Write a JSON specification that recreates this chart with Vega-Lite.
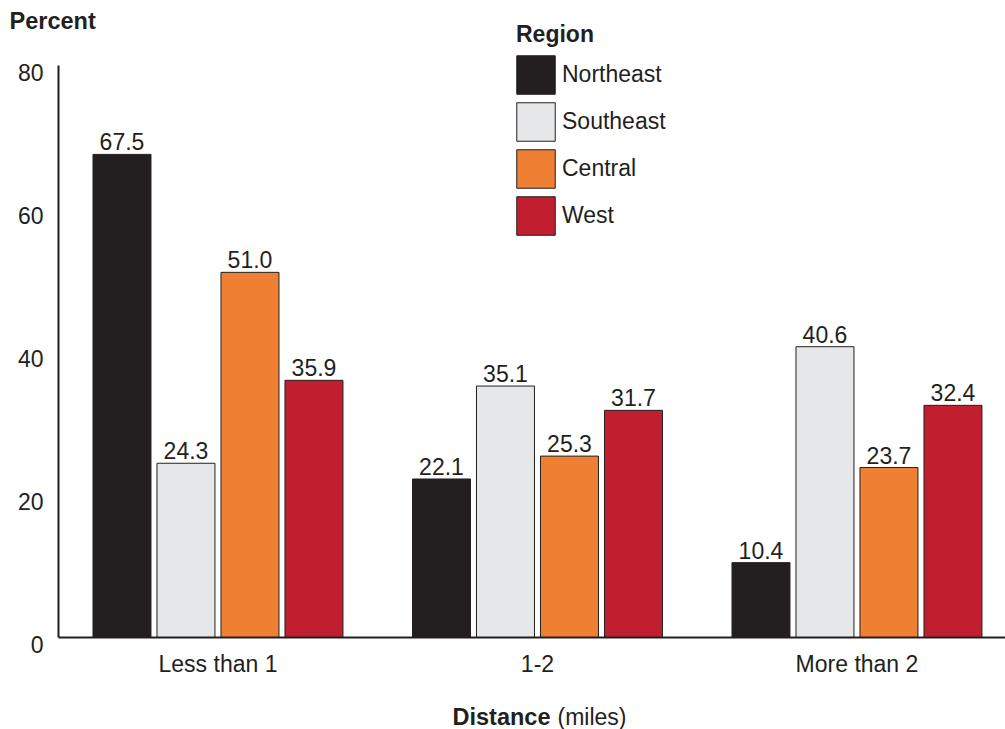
{
  "$schema": "https://vega.github.io/schema/vega-lite/v6.json",
  "width": 947,
  "height": 572,
  "autosize": {"type": "none"},
  "padding": {"left": 58, "top": 65, "right": 0, "bottom": 92},
  "background": "white",
  "config": {"view": {"stroke": null}, "font": "Liberation Sans", "text": {"font": "Liberation Sans"}},
  "data": {"values": [
    {"distance": "Less than 1", "region": "Northeast", "value": 67.5},
    {"distance": "Less than 1", "region": "Southeast", "value": 24.3},
    {"distance": "Less than 1", "region": "Central", "value": 51.0},
    {"distance": "Less than 1", "region": "West", "value": 35.9},
    {"distance": "1-2", "region": "Northeast", "value": 22.1},
    {"distance": "1-2", "region": "Southeast", "value": 35.1},
    {"distance": "1-2", "region": "Central", "value": 25.3},
    {"distance": "1-2", "region": "West", "value": 31.7},
    {"distance": "More than 2", "region": "Northeast", "value": 10.4},
    {"distance": "More than 2", "region": "Southeast", "value": 40.6},
    {"distance": "More than 2", "region": "Central", "value": 23.7},
    {"distance": "More than 2", "region": "West", "value": 32.4}
  ]},
  "encoding": {
    "xOffset": {"field": "region", "type": "nominal", "sort": ["Northeast", "Southeast", "Central", "West"], "scale": {"paddingInner": 0.094, "paddingOuter": 0.044}},
    "y": {"field": "value", "type": "quantitative", "scale": {"domain": [0, 80], "nice": false},
      "axis": {"title": "Percent", "titleAngle": 0, "titleX": -49, "titleY": -37, "titleAlign": "left", "titleBaseline": "alphabetic", "titleFontWeight": "bold", "titleFontSize": 23.5, "titleColor": "#231f20",
        "values": [0, 20, 40, 60, 80], "ticks": false, "labelPadding": 15, "labelOffset": 8, "grid": false, "domainColor": "#231f20", "domainWidth": 2, "labelFontSize": 23, "labelColor": "#231f20"}}
  },
  "layer": [
    {
      "mark": {"type": "bar", "stroke": "#231f20", "strokeWidth": 1},
      "encoding": {
        "x": {"field": "distance", "type": "nominal", "sort": ["Less than 1", "1-2", "More than 2"],
          "scale": {"paddingInner": 0.2, "paddingOuter": 0.082, "align": 0.614},
          "axis": {"title": "Distance", "titleX": 394, "titleY": 87, "titleAlign": "left", "titleBaseline": "alphabetic", "titleFontWeight": "bold", "titleFontSize": 23.5, "titleColor": "#231f20",
            "labelAngle": 0, "labelFontSize": 23, "labelColor": "#231f20", "labelPadding": 16, "ticks": false, "domainColor": "#231f20", "domainWidth": 2}},
        "color": {"field": "region", "type": "nominal", "sort": ["Northeast", "Southeast", "Central", "West"],
          "scale": {"domain": ["Northeast", "Southeast", "Central", "West"], "range": ["#231f20", "#e6e7e8", "#ef7f32", "#c11f2f"]},
          "legend": {"orient": "none", "legendX": 458, "legendY": -41, "title": "Region", "titleFontSize": 23, "titleFontWeight": "bold", "titleColor": "#231f20", "titlePadding": 8,
            "symbolType": "square", "symbolSize": 1480, "symbolStrokeColor": "#231f20", "symbolStrokeWidth": 1, "symbolOpacity": 1,
            "labelFontSize": 23, "labelOffset": 6, "rowPadding": 3, "labelColor": "#231f20"}}
      }
    },
    {
      "mark": {"type": "text", "align": "center", "baseline": "alphabetic", "dy": -4, "fontSize": 23, "fill": "#231f20"},
      "encoding": {
        "x": {"field": "distance", "type": "nominal", "sort": ["Less than 1", "1-2", "More than 2"],
          "scale": {"paddingInner": 0.2, "paddingOuter": 0.082, "align": 0.614},
          "axis": {"orient": "bottom", "title": "(miles)", "titleX": 499, "titleY": 87, "titleAlign": "left", "titleBaseline": "alphabetic", "titleFontWeight": "normal", "titleFontSize": 23, "titleColor": "#231f20",
            "labels": false, "ticks": false, "domain": false, "grid": false}},
        "text": {"field": "value", "type": "quantitative", "format": ".1f"}
      }
    }
  ],
  "resolve": {"scale": {"x": "independent"}}
}
